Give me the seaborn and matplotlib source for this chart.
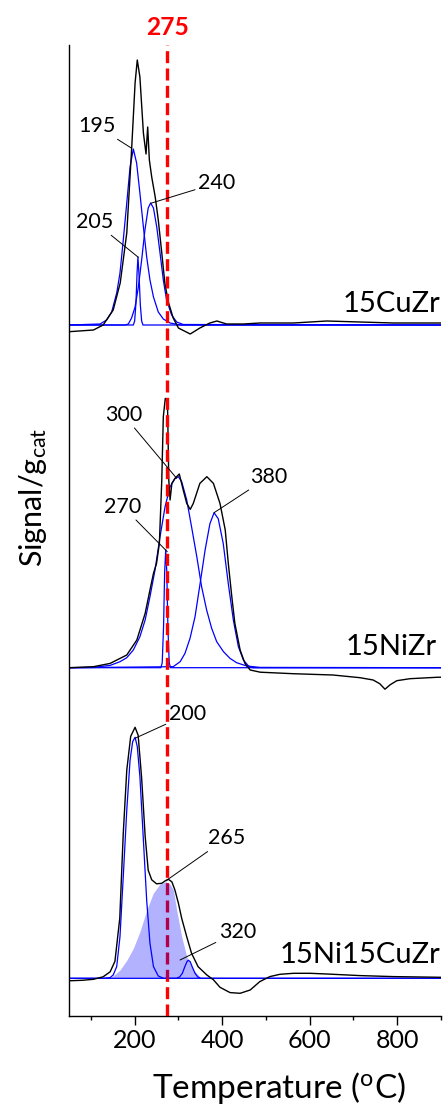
import matplotlib
matplotlib.use("Agg")
import matplotlib.pyplot as plt
import numpy as np
import pandas as pd
import seaborn as sns

# ---------------- data ----------------
# 15CuZr
cu_black_T = [50, 106, 128, 151, 167, 182, 193, 201, 206, 212, 220, 226, 229.8, 233.6, 239, 247, 254, 262,
              269, 277, 288, 300, 327, 349, 372, 388, 410, 448, 487, 563, 639, 715, 791, 900]
cu_black_S = [-6.7, -5, 0, 15, 42, 92, 175, 242, 265, 248, 192, 171, 198, 165, 148, 128, 105, 72,
              42, 23, 7, -3, -9, -3, 2, 4, 1, 1, 2, 2, 4, 3, 2, 2]
cu_p195_T = [50, 121, 136, 147.5, 159, 166.5, 174, 182, 189.5, 197, 204.5, 212, 220, 227.5, 235, 243, 254,
             265.5, 281, 304, 900]
cu_p195_S = [0, 1, 5, 13, 32, 52, 85, 122, 158, 176, 162, 132, 98, 68, 45, 28, 13, 6, 2, 0, 0]
cu_p205_T = [50, 197, 200, 203, 205.5, 207.5, 210, 213, 216, 219, 900]
cu_p205_S = [0, 0, 4, 22, 52, 68, 50, 20, 4, 0, 0]
cu_p240_T = [50, 178, 185.5, 193, 201, 208.5, 216, 223.5, 231, 236.5, 243, 250.5, 258, 265.5, 273, 284.5,
             296, 311, 900]
cu_p240_S = [0, 0, 1, 7, 18, 38, 65, 95, 117, 122, 117, 98, 72, 45, 25, 10, 3, 0.5, 0]

# 15NiZr
ni_black_T = [50, 106, 144, 182, 205, 224, 235, 243, 250, 256.5, 262, 265.5, 270, 275, 278, 281, 285, 292,
              302, 311, 319, 327, 334, 349, 365, 380, 395, 407, 414, 422, 429, 441, 452, 464, 487, 562,
              653, 715, 745, 760, 772, 784, 799, 829, 890, 900]
ni_black_S = [0, 1, 4.3, 12.7, 27.7, 54.3, 77.7, 94.3, 104.3, 124.3, 187.7, 251, 269.3, 266, 187.7, 167.7,
              184.3, 189.3, 193.7, 177.7, 164.3, 158.3, 164.3, 184.3, 191, 184.3, 164.3, 137.7, 104.3, 71,
              44.3, 17.7, 4.3, -2.3, -4.5, -6, -7.3, -10, -12.3, -16, -21.5, -17, -13, -11, -9.6, -9.5]
ni_p300_T = [50, 106, 144, 166.5, 182, 197, 212, 224, 235, 246.5, 258, 269.5, 281, 292, 300, 307.5, 319,
             330, 342, 353, 364.5, 376, 387.5, 403, 418, 433, 456, 486.5, 900]
ni_p300_S = [0, 0.3, 2.3, 6, 10, 17.7, 31, 47.7, 71, 97.7, 131, 161, 181, 189, 191, 186, 167.7, 141, 111,
             81, 57.7, 39.3, 26, 16, 9.3, 5, 1.7, 0.3, 0]
ni_p270_T = [50, 260, 263, 266, 268.5, 271, 273.5, 276, 279, 282, 900]
ni_p270_S = [0, 0, 5, 40, 95, 118, 95, 40, 5, 0, 0]
ni_p380_T = [50, 288, 304, 315, 326.5, 338, 349.5, 361, 372, 381.5, 391, 402.5, 414, 425.5, 437, 448.5,
             460, 471, 900]
ni_p380_S = [0, 1, 6, 14.3, 29.3, 51, 84, 117.7, 144, 155, 149, 124, 84, 47.7, 21, 7.7, 1.7, 0, 0]

# 15Ni15CuZr
nc_black_T = [50, 80, 106, 128, 144, 155, 166, 174, 182, 191, 201, 208, 216, 224, 231, 239, 250, 262, 270,
              277, 285, 292, 300, 307.5, 319, 330, 345, 365, 380, 395, 418, 441, 464, 486, 509, 532, 563,
              601, 639, 715, 791, 900]
nc_black_S = [-2.5, -2, -1, 1.5, 6.5, 17, 60, 145, 208, 242, 251, 243, 200, 142, 108, 98.5, 94.5, 95, 97.5,
              99, 96.5, 88.3, 75, 60, 41.6, 25, 11.6, 3.3, -1.5, -9, -14.3, -15, -11.7, -3.3, 1.7, 4, 5,
              5, 4.3, 2.7, 1.7, 1]
nc_p200_T = [50, 128, 144, 151, 159, 166.5, 174, 182, 189.5, 195.5, 201, 206, 212, 220, 227.5, 235, 243,
             254, 266, 900]
nc_p200_S = [0, 0, 0.7, 3.3, 11.7, 41.7, 101.7, 168, 218, 236.7, 241, 231.7, 201.7, 138, 78, 35, 11.7,
             2.3, 0, 0]
nc_p320_T = [50, 296, 303, 309, 315, 320, 323, 327, 332, 338, 344, 350, 900]
nc_p320_S = [0, 0, 1.5, 5, 12, 17, 18, 16.5, 11, 5, 1.5, 0, 0]
nc_p265_T = [144, 166, 182, 197, 212, 227.5, 242.5, 258, 271.5, 281, 288.5, 296, 307.5, 319, 334, 353]
nc_p265_S = [0, 8, 18, 30, 46.6, 68, 85, 94.3, 96.6, 94, 88.3, 68.3, 41.6, 21.6, 8.3, 0]

# peak labels and the points their leader lines touch
cu_labels = ["195", "205", "240"]
cu_peak_T = [193.3, 208.4, 236.7]
cu_peak_S = [176.7, 67.7, 121.7]
ni_labels = ["300", "270", "380"]
ni_peak_T = [296, 274.6, 381.4]
ni_peak_S = [189.4, 116, 155]
nc_labels = ["200", "265", "320"]
nc_peak_T = [200.8, 271.7, 303.7]
nc_peak_S = [240, 97.6, 18.3]

sample_names = ["15CuZr", "15NiZr", "15Ni15CuZr"]
marker_T = 275
x_major = [200, 400, 600, 800]
x_minor = [100, 300, 500, 700, 900]

# ---------------- layout / style ----------------
offsets = [691, 348.3, 37.7]
cu_text_pos = [(113, 199), (109, 103), (388, 142)]
ni_text_pos = [(174, 253), (173, 161), (507, 191)]
nc_text_pos = [(321, 264), (410, 140), (435.5, 46.6)]
name_pos = [(898, 21), (890, 21), (898, 23)]

sns.set_style("ticks")
plt.rcParams["font.family"] = ["Lato", "DejaVu Sans"]
plt.rcParams["mathtext.default"] = "regular"
plt.rcParams["text.color"] = "black"
plt.rcParams["xtick.color"] = "black"
plt.rcParams["xtick.labelcolor"] = "black"
plt.rcParams["axes.edgecolor"] = "black"

fig = plt.figure(figsize=(4.46, 11.04), dpi=100)
ax = fig.add_axes([69 / 446, 88 / 1104, (441 - 69) / 446, (1059 - 88) / 1104])


def line(T, S, off, color, lw, z=2):
    df = pd.DataFrame({"T": T, "S": np.asarray(S, float) + off})
    sns.lineplot(data=df, x="T", y="S", sort=False, estimator=None, color=color,
                 lw=lw, ax=ax, legend=False, zorder=z)


BLUE = "#0000ff"
panels = [
    (cu_black_T, cu_black_S, [(cu_p195_T, cu_p195_S), (cu_p205_T, cu_p205_S), (cu_p240_T, cu_p240_S)]),
    (ni_black_T, ni_black_S, [(ni_p300_T, ni_p300_S), (ni_p270_T, ni_p270_S), (ni_p380_T, ni_p380_S)]),
    (nc_black_T, nc_black_S, [(nc_p200_T, nc_p200_S), (nc_p320_T, nc_p320_S)]),
]
for (bT, bS, comps), off in zip(panels, offsets):
    for cT, cS in comps:
        line(cT, cS, off, BLUE, 0.9)
    line(bT, bS, off, "black", 1.0)

# dashed marker
ax.axvline(marker_T, color="#ff0000", lw=2.4, ls=(0, (3.6, 1.6)), zorder=3)

# filled component
ax.fill_between(nc_p265_T, offsets[2], np.asarray(nc_p265_S) + offsets[2],
                color=BLUE, alpha=0.3, lw=0, zorder=4)

# annotations
for labels, pT, pS, tpos, off in [
    (cu_labels, cu_peak_T, cu_peak_S, cu_text_pos, offsets[0]),
    (ni_labels, ni_peak_T, ni_peak_S, ni_text_pos, offsets[1]),
    (nc_labels, nc_peak_T, nc_peak_S, nc_text_pos, offsets[2]),
]:
    for lab, x, y, (tx, ty) in zip(labels, pT, pS, tpos):
        ax.annotate(lab, xy=(x, y + off), xytext=(tx, ty + off), ha="center", va="center",
                    fontsize=15.5, zorder=6, color="black",
                    arrowprops=dict(arrowstyle="-", color="black", lw=0.7, shrinkA=0, shrinkB=0))

for name, (nx, ny), off in zip(sample_names, name_pos, offsets):
    ax.text(nx, ny + off, name, ha="right", va="center", fontsize=21, zorder=6, color="black")

ax.text(marker_T, 1.0185, str(marker_T), transform=ax.get_xaxis_transform(), ha="center",
        va="center", fontsize=17.7, fontweight="bold", color="#ff0000", clip_on=False)

ax.set_xlim(50, 900)
ax.set_ylim(0, 971)
ax.set_xticks(x_major)
ax.set_xticks(x_minor, minor=True)
ax.set_yticks([])
ax.tick_params(axis="x", which="major", direction="out", length=6.5, width=1, labelsize=18, pad=3,
               colors="black")
ax.tick_params(axis="x", which="minor", direction="out", length=3, width=1, colors="black")
for s in ["top", "right"]:
    ax.spines[s].set_visible(False)
for s in ["left", "bottom"]:
    ax.spines[s].set_linewidth(1.0)
    ax.spines[s].set_color("black")
ax.set_xlabel("")
ax.set_ylabel("")

fig.text(33 / 446, 1 - 497 / 1104, "Signal/g$_{cat}$", rotation=90, ha="center", va="center",
         fontsize=22, color="black")
fig.text(279 / 446, 1 - 1088 / 1104, "Temperature ($^{o}$C)", ha="center", va="center",
         fontsize=24, color="black")

fig.savefig("out.png", dpi=100)
